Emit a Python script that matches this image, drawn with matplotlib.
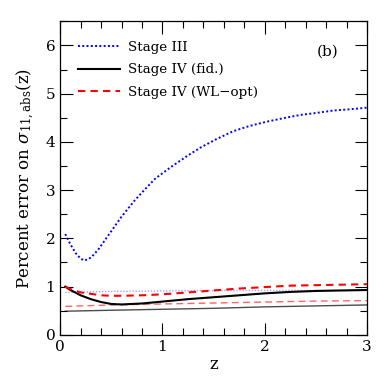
import numpy as np
import matplotlib
matplotlib.use("Agg")
import matplotlib.pyplot as plt
from matplotlib.ticker import MultipleLocator

plt.rcParams['font.family'] = ['DejaVu Serif']
plt.rcParams['mathtext.fontset'] = 'dejavuserif'

# Stage III (thick dotted)
z_s3 = [0.05, 0.1, 0.15, 0.2, 0.24, 0.3, 0.37, 0.44, 0.52, 0.60, 0.73, 0.83, 0.93,
        1.09, 1.25, 1.37, 1.52, 1.69, 1.85, 2.02, 2.2, 2.35, 2.5, 2.67, 2.85, 3.0]
s3 = [2.09, 1.88, 1.70, 1.58, 1.54, 1.60, 1.76, 1.97, 2.21, 2.45, 2.79, 3.02, 3.24,
      3.49, 3.72, 3.88, 4.05, 4.22, 4.33, 4.42, 4.50, 4.56, 4.60, 4.65, 4.68, 4.71]

# Stage IV fiducial (thick solid)
z_s4 = [0.05, 0.1, 0.2, 0.3, 0.4, 0.5, 0.6, 0.8, 1.0, 1.25, 1.5, 1.75, 2.0, 2.25, 2.5, 2.75, 3.0]
s4 = [1.0, 0.93, 0.82, 0.74, 0.68, 0.64, 0.63, 0.65, 0.69, 0.74, 0.78, 0.82, 0.86, 0.89, 0.91, 0.92, 0.93]

# Stage IV WL-opt (thick dashed)
s4wl = [1.0, 0.95, 0.88, 0.85, 0.82, 0.81, 0.81, 0.82, 0.84, 0.88, 0.92, 0.96, 0.99, 1.02, 1.03, 1.04, 1.05]

# thin companion curves
z_thin = [0.05, 0.5, 1.0, 1.5, 2.0, 2.5, 3.0]
s3_thin = [0.88, 0.90, 0.91, 0.92, 0.92, 0.92, 0.92]
s4_thin = [0.49, 0.51, 0.53, 0.55, 0.58, 0.60, 0.62]
s4wl_thin = [0.59, 0.62, 0.64, 0.66, 0.68, 0.70, 0.71]

fig = plt.figure(figsize=(3.88, 3.88), dpi=100)
ax = fig.add_axes([0.155, 0.137, 0.791, 0.808])

ax.plot(z_thin, s3_thin, color='#6060ff', lw=1.0, ls=(0, (1, 1.2)), alpha=0.6)
ax.plot(z_thin, s4_thin, color='black', lw=1.0, alpha=0.7)
ax.plot(z_thin, s4wl_thin, color='red', lw=1.0, ls=(0, (5, 3)), alpha=0.6)

ax.plot(z_s3, s3, color='blue', lw=1.4, ls=(0, (1, 1.2)), label='Stage III')
ax.plot(z_s4, s4, color='black', lw=1.5, label='Stage IV (fid.)')
ax.plot(z_s4, s4wl, color='red', lw=1.5, ls=(0, (3.5, 2.5)), label='Stage IV (WL\u2212opt)')

ax.set_xlim(0, 3)
ax.set_ylim(0, 6.5)
ax.xaxis.set_major_locator(MultipleLocator(1))
ax.xaxis.set_minor_locator(MultipleLocator(0.2))
ax.yaxis.set_major_locator(MultipleLocator(1))
ax.yaxis.set_minor_locator(MultipleLocator(0.5))
ax.tick_params(which='both', direction='in', top=True, right=True, labelsize=11)
ax.tick_params(which='major', length=9, width=0.8)
ax.tick_params(which='minor', length=5, width=0.8)
for s in ax.spines.values():
    s.set_linewidth(0.9)

ax.set_xlabel('z', fontsize=12, labelpad=2)
ax.set_ylabel(r'Percent error on $\sigma_{\rm 11,abs}$(z)', fontsize=12, labelpad=6)
ax.text(0.87, 0.902, '(b)', transform=ax.transAxes, fontsize=11, ha='center', va='center')

ax.legend(loc='upper left', bbox_to_anchor=(0.02, 0.977), frameon=False, fontsize=9.7,
          handlelength=3.1, handletextpad=0.6, labelspacing=0.72)

fig.savefig('out.png', dpi=100)
